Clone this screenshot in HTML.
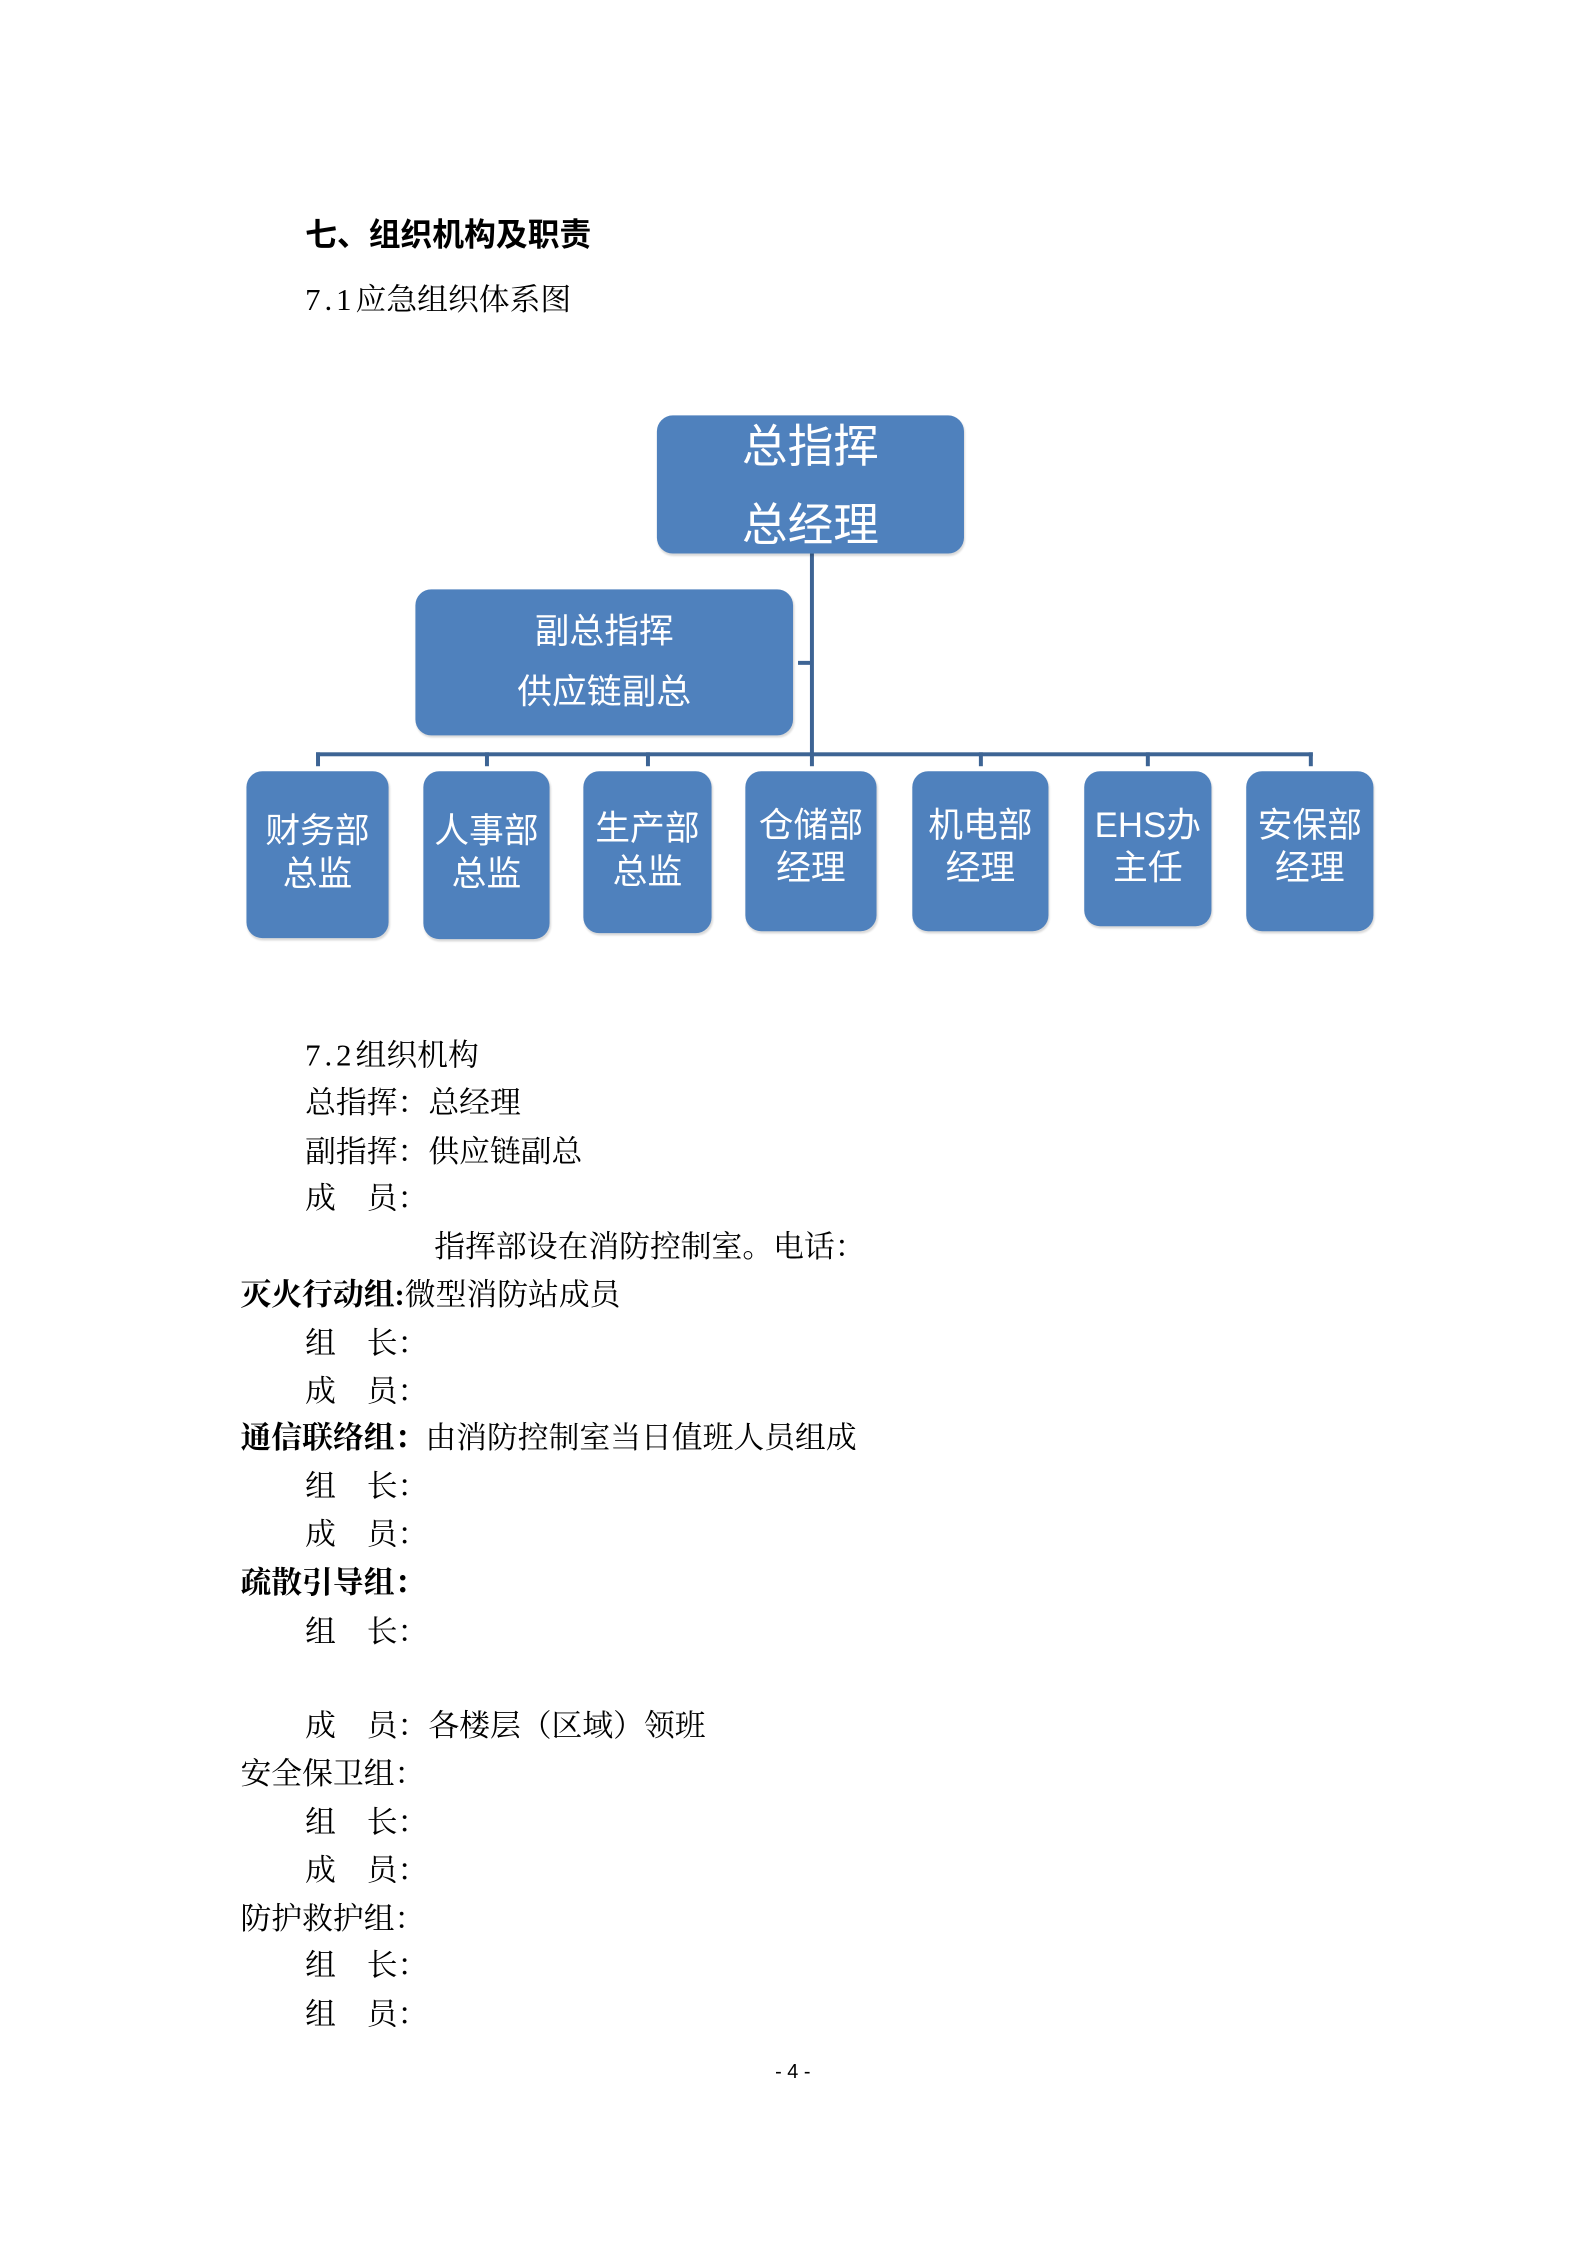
<!DOCTYPE html>
<html><head><meta charset="utf-8"><style>
html,body{margin:0;padding:0;background:#fff;}
body{width:1587px;height:2245px;position:relative;overflow:hidden;font-family:"Liberation Serif","Noto Serif CJK SC",serif;color:#000;}
#w{position:absolute;left:0;top:0;width:1587px;height:2245px;transform:scale(0.9938);transform-origin:0 0;}
.t{position:absolute;font-size:31px;line-height:40px;white-space:pre;}
.b{font-weight:bold;}
.box{position:absolute;background:#4f81bd;border-radius:16px;color:#fff;font-family:"Liberation Sans","Noto Sans CJK SC",sans-serif;text-align:center;box-shadow:1px 2px 2px rgba(0,0,0,0.15);}
.box div{position:absolute;left:0;right:0;white-space:nowrap;}
.ln{position:absolute;background:#3d6494;}
.num{letter-spacing:4px;}
</style></head><body><div id="w">
<div class="t" style="left:307px;top:216px;font-size:32px;font-weight:bold;font-family:'Liberation Sans','Noto Sans CJK SC',sans-serif;">七、组织机构及职责</div>
<div class="t" style="left:307px;top:282px;"><span class="num">7.1</span>应急组织体系图</div>

<div class="ln" style="left:815px;top:557px;width:4px;height:204px;"></div>
<div class="ln" style="left:803px;top:665px;width:14px;height:4px;"></div>
<div class="ln" style="left:318px;top:757px;width:1003px;height:4px;"></div>
<div class="ln" style="left:318px;top:757px;width:4px;height:14px;"></div>
<div class="ln" style="left:488px;top:757px;width:4px;height:14px;"></div>
<div class="ln" style="left:650px;top:757px;width:4px;height:14px;"></div>
<div class="ln" style="left:815px;top:757px;width:4px;height:14px;"></div>
<div class="ln" style="left:985px;top:757px;width:4px;height:14px;"></div>
<div class="ln" style="left:1153px;top:757px;width:4px;height:14px;"></div>
<div class="ln" style="left:1317px;top:757px;width:4px;height:14px;"></div>

<div class="box" style="left:661px;top:418px;width:309px;height:139px;font-size:46px;">
<div style="top:3px;line-height:56px;">总指挥</div><div style="top:82px;line-height:56px;">总经理</div></div>
<div class="box" style="left:418px;top:593px;width:380px;height:147px;font-size:35px;">
<div style="top:20px;line-height:46px;">副总指挥</div><div style="top:81px;line-height:46px;">供应链副总</div></div>

<div class="box" style="left:248px;top:776px;width:143px;height:168px;font-size:35px;"><div style="top:39px;line-height:44px;">财务部</div><div style="top:82px;line-height:44px;">总监</div></div>
<div class="box" style="left:426px;top:776px;width:127px;height:169px;font-size:35px;"><div style="top:39px;line-height:44px;">人事部</div><div style="top:82px;line-height:44px;">总监</div></div>
<div class="box" style="left:587px;top:776px;width:129px;height:163px;font-size:35px;"><div style="top:36px;line-height:44px;">生产部</div><div style="top:80px;line-height:44px;">总监</div></div>
<div class="box" style="left:750px;top:776px;width:132px;height:161px;font-size:35px;"><div style="top:33px;line-height:44px;">仓储部</div><div style="top:76px;line-height:44px;">经理</div></div>
<div class="box" style="left:918px;top:776px;width:137px;height:161px;font-size:35px;"><div style="top:33px;line-height:44px;">机电部</div><div style="top:76px;line-height:44px;">经理</div></div>
<div class="box" style="left:1091px;top:776px;width:128px;height:156px;font-size:35px;"><div style="top:33px;line-height:44px;">EHS办</div><div style="top:76px;line-height:44px;">主任</div></div>
<div class="box" style="left:1254px;top:776px;width:128px;height:161px;font-size:35px;"><div style="top:33px;line-height:44px;">安保部</div><div style="top:76px;line-height:44px;">经理</div></div>

<div class="t" style="left:307px;top:1042px;"><span class="num">7.2</span>组织机构</div>
<div class="t" style="left:307px;top:1090px;">总指挥：总经理</div>
<div class="t" style="left:307px;top:1139px;">副指挥：供应链副总</div>
<div class="t" style="left:307px;top:1186px;">成　员：</div>
<div class="t" style="left:437px;top:1235px;">指挥部设在消防控制室。电话：</div>
<div class="t" style="left:242px;top:1283px;"><span class="b">灭火行动组:</span>微型消防站成员</div>
<div class="t" style="left:307px;top:1332px;">组　长：</div>
<div class="t" style="left:307px;top:1380px;">成　员：</div>
<div class="t" style="left:242px;top:1427px;"><span class="b">通信联络组：</span>由消防控制室当日值班人员组成</div>
<div class="t" style="left:307px;top:1476px;">组　长：</div>
<div class="t" style="left:307px;top:1524px;">成　员：</div>
<div class="t b" style="left:242px;top:1573px;">疏散引导组：</div>
<div class="t" style="left:307px;top:1622px;">组　长：</div>
<div class="t" style="left:307px;top:1717px;">成　员：各楼层（区域）领班</div>
<div class="t" style="left:242px;top:1765px;">安全保卫组：</div>
<div class="t" style="left:307px;top:1814px;">组　长：</div>
<div class="t" style="left:307px;top:1862px;">成　员：</div>
<div class="t" style="left:242px;top:1911px;">防护救护组：</div>
<div class="t" style="left:307px;top:1958px;">组　长：</div>
<div class="t" style="left:307px;top:2007px;">组　员：</div>
<div class="t" style="left:780px;top:2072px;font-size:20px;line-height:26px;font-family:'Liberation Sans',sans-serif;">- 4 -</div>
</div></body></html>
